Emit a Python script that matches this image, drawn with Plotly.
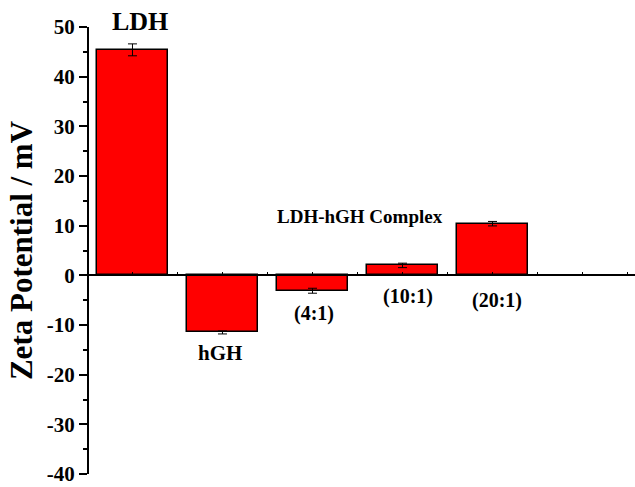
import plotly.graph_objects as go

categories = ["LDH", "hGH", "(4:1)", "(10:1)", "(20:1)"]
zeta_values = [45.4, -11.5, -3.1, 2.0, 10.4]
zeta_errors = [1.2, 0.3, 0.5, 0.45, 0.45]
label_x = [0.08, 0.97, 2.02, 3.06, 4.05]
label_y = [51.1, -15.7, -7.6, -4.3, -5.1]
label_sizes = [26, 21, 20, 20, 20]
group_label = "LDH-hGH Complex"
group_label_pos = (2.53, 11.9)
y_tick_vals = [-40, -30, -20, -10, 0, 10, 20, 30, 40, 50]
y_tick_text = [str(v) for v in y_tick_vals]

FONT = "Liberation Serif, Times New Roman, serif"
Y_MIN, Y_MAX = -40, 50

fig = go.Figure()
fig.add_trace(go.Bar(
    x=list(range(len(categories))),
    y=zeta_values,
    width=0.79,
    marker=dict(color="#FF0000", line=dict(color="black", width=1.5)),
    error_y=dict(type="data", array=zeta_errors, color="black", thickness=1, width=4.5),
    showlegend=False,
))

for i, name in enumerate(categories):
    yv = label_y[i]
    inside = Y_MIN <= yv <= Y_MAX
    fig.add_annotation(x=label_x[i],
                       y=yv if inside else (yv - Y_MIN) / (Y_MAX - Y_MIN),
                       yref="y" if inside else "paper", xref="x",
                       text=name, showarrow=False, xanchor="center", yanchor="middle",
                       font=dict(family=FONT, size=label_sizes[i], color="black", weight="bold"))
fig.add_annotation(x=group_label_pos[0], y=group_label_pos[1], text=group_label, showarrow=False,
                   xanchor="center", yanchor="middle",
                   font=dict(family=FONT, size=19, color="black", weight="bold"),
                   xref="x", yref="y")

fig.update_layout(
    width=635, height=487,
    margin=dict(l=89, r=0, t=27, b=13),
    plot_bgcolor="white", paper_bgcolor="white",
    bargap=0,
    xaxis=dict(
        range=[-0.483, 5.583],
        showline=True, linecolor="black", linewidth=2,
        ticks="inside", ticklen=2, tickwidth=1, tickcolor="black",
        dtick=0.5, tick0=0, showticklabels=False,
        showgrid=False, zeroline=False, automargin=False,
        anchor="free", position=(0 - Y_MIN) / (Y_MAX - Y_MIN),
    ),
    yaxis=dict(
        range=[Y_MIN, Y_MAX],
        tickvals=y_tick_vals, ticktext=y_tick_text,
        showline=True, linecolor="black", linewidth=2,
        ticks="outside", ticklen=8, tickwidth=2, tickcolor="black",
        minor=dict(dtick=5, ticks="outside", ticklen=4, tickwidth=2, tickcolor="black"),
        tickfont=dict(family=FONT, size=21, color="black", weight="bold"),
        ticklabeloverflow="allow",
        showgrid=False, zeroline=False, automargin=False,
        title=dict(text="Zeta Potential / mV", standoff=5,
                   font=dict(family=FONT, size=31, color="black", weight="bold")),
    ),
)

fig.write_html("out.html", config={"displayModeBar": False})

# remove the browser's default page margin so the figure sits at the window origin
with open("out.html", "r", encoding="utf-8") as f:
    html = f.read()
html = html.replace("<body>", '<body style="margin:0;overflow:hidden">', 1)
with open("out.html", "w", encoding="utf-8") as f:
    f.write(html)
